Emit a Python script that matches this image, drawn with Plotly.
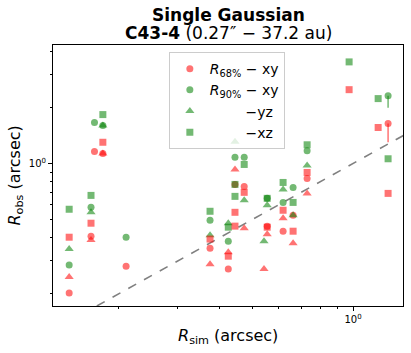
import plotly.graph_objects as go

# R_sim / R_obs values (arcsec)
x_xy = [0.142, 0.165, 0.169, 0.179, 0.210, 0.374, 0.424, 0.444, 0.473, 0.554, 0.618, 0.662, 0.729, 1.272]
r68_xy = [0.202, 0.407, 1.16, 1.13, 0.281, 0.351, 0.271, 0.772, 0.753, 0.461, 0.433, 0.527, 0.831, 1.64]
r90_xy = [0.285, 0.582, 1.66, 1.60, 0.402, 0.496, 0.383, 1.08, 1.08, 0.650, 0.618, 0.744, 1.17, 2.31]
r68_xy_err = [0, 0, 0, 0, 0, 0, 0, 0, 0, 0, 0, 0, 0, 0.34]
r90_xy_err = [0, 0, 0, 0, 0, 0, 0, 0, 0, 0, 0, 0, 0, 0.32]

x_yz = [0.142, 0.165, 0.179, 0.374, 0.424, 0.444, 0.473, 0.542, 0.554, 0.618, 0.662, 0.729]
r68_yz = [0.246, 0.388, 1.13, 0.288, 0.334, 0.929, 0.449, 0.271, 0.417, 0.508, 0.373, 0.691]
r90_yz = [0.347, 0.547, 1.60, 0.412, 0.478, 1.31, 0.634, 0.383, 0.596, 0.726, 0.527, 0.976]

x_xz = [0.142, 0.165, 0.179, 0.374, 0.424, 0.444, 0.444, 0.473, 0.554, 0.618, 0.662, 0.729, 0.973, 1.188, 1.272]
r68_xz = [0.402, 0.478, 1.30, 0.393, 0.318, 0.547, 0.461, 0.700, 0.455, 0.561, 0.433, 0.895, 2.49, 1.56, 0.691]
r90_xz = [0.568, 0.674, 1.83, 0.554, 0.455, 0.772, 0.666, 0.988, 0.650, 0.791, 0.618, 1.26, 3.51, 2.23, 1.06]

one_to_one = [0.1, 2.0]

RED = "rgba(255,0,0,0.55)"
GREEN = "rgba(0,128,0,0.55)"
FONT = "DejaVu Sans"
pad = "\u00a0" * 8

fig = go.Figure()

# 1:1 line
fig.add_trace(go.Scatter(x=one_to_one, y=one_to_one, mode="lines",
                         line=dict(color="#808080", dash="dash", width=1.6),
                         showlegend=False, hoverinfo="skip"))

def add(x, y, color, symbol, name, show, err=None, size=7):
    kw = {}
    if err is not None:
        kw["error_y"] = dict(type="data", symmetric=False, array=[0] * len(err),
                             arrayminus=err, color=color, thickness=1.5, width=0)
    fig.add_trace(go.Scatter(x=x, y=y, mode="markers", name=name, showlegend=show,
                             marker=dict(color=color, symbol=symbol, size=size,
                                         line=dict(width=0)), **kw))

add(x_xy, r68_xy, RED, "circle", "<i>R</i><sub>68%</sub> − xy", True, r68_xy_err)
add(x_xy, r90_xy, GREEN, "circle", "<i>R</i><sub>90%</sub> − xy", True, r90_xy_err)
add(x_yz, r90_yz, GREEN, "triangle-up", pad + "−yz", True, size=8)
add(x_xz, r90_xz, GREEN, "square", pad + "−xz", True)
add(x_yz, r68_yz, RED, "triangle-up", "r68 yz", False, size=8)
add(x_xz, r68_xz, RED, "square", "r68 xz", False)

axis_common = dict(type="log", showgrid=False, zeroline=False, showline=True,
                   linecolor="black", linewidth=1, mirror=True, automargin=False,
                   ticks="outside", ticklen=4, tickcolor="black",
                   tickfont=dict(family=FONT, size=10, color="black"))

fig.update_xaxes(**axis_common, range=[-0.896, 0.149],
                 tickvals=[1], ticktext=["10<sup>0</sup>"],
                 minor=dict(ticks="outside", ticklen=2, tickcolor="black",
                            tickvals=[0.2, 0.3, 0.4, 0.5, 0.6, 0.7, 0.8, 0.9]))
fig.update_yaxes(**axis_common, range=[-0.765, 0.636],
                 tickvals=[1], ticktext=["10<sup>0</sup>"],
                 minor=dict(ticks="outside", ticklen=2, tickcolor="black",
                            tickvals=[0.2, 0.3, 0.4, 0.5, 0.6, 0.7, 0.8, 0.9, 2, 3, 4]))

# titles and axis labels placed in pixel offsets from the plot frame (261 px high, 350 px wide)
fig.add_annotation(text="<b>Single Gaussian</b>", xref="paper", yref="paper",
                   x=0.5, y=1 + 30 / 261, showarrow=False, yanchor="middle",
                   font=dict(family=FONT, size=17, color="black"))
fig.add_annotation(text="<b>C43-4</b> (0.27″ − 37.2 au)", xref="paper", yref="paper",
                   x=0.5, y=1 + 12 / 261, showarrow=False, yanchor="middle",
                   font=dict(family=FONT, size=17, color="black"))
fig.add_annotation(text="<i>R</i><sub>sim</sub> (arcsec)", xref="paper", yref="paper",
                   x=0.5, y=-30 / 261, showarrow=False, yanchor="middle",
                   font=dict(family=FONT, size=16, color="black"))
fig.add_annotation(text="<i>R</i><sub>obs</sub> (arcsec)", xref="paper", yref="paper",
                   x=-38 / 350, y=0.5, showarrow=False, xanchor="center", textangle=-90,
                   font=dict(family=FONT, size=16, color="black"))

fig.update_layout(
    width=411, height=353,
    margin=dict(l=53, r=8, t=45, b=47),
    paper_bgcolor="white", plot_bgcolor="white",
    font=dict(family=FONT, color="black"),
    legend=dict(x=0.331, y=0.973, xanchor="left", yanchor="top",
                bgcolor="rgba(255,255,255,0.8)", bordercolor="#cccccc", borderwidth=1,
                font=dict(family=FONT, size=14, color="black"), itemwidth=30,
                tracegroupgap=0),
)

# drop the default 8px page margin so the figure fills the window; no modebar
fig.write_html("out.html", config={"displayModeBar": False},
               post_script="document.body.style.margin = '0';")
